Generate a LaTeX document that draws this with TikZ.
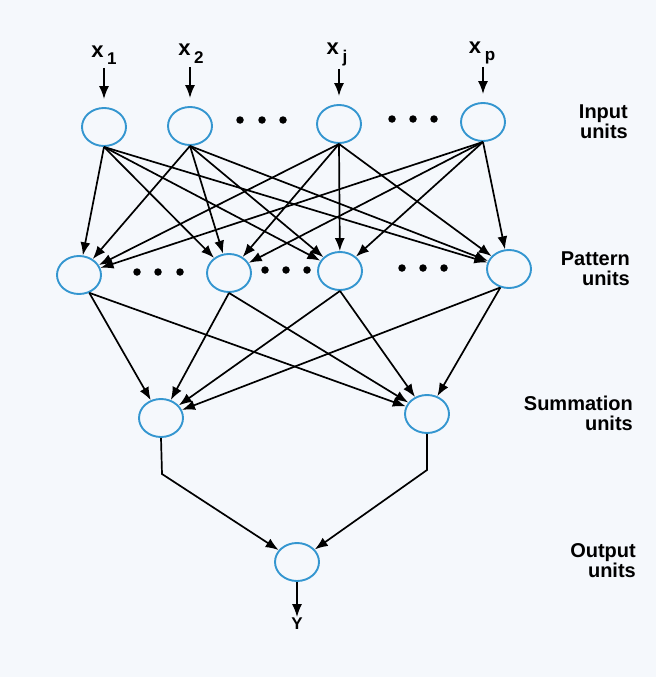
\documentclass[tikz,border=0pt]{standalone}
\usepackage{fontspec}
\setmainfont{Liberation Sans}
\usetikzlibrary{arrows.meta,shapes.geometric}
\definecolor{paper}{RGB}{245,248,252}
\definecolor{unitblue}{RGB}{52,150,208}
\begin{document}
\begin{tikzpicture}[x=1pt,y=-1pt,
  unit/.style={ellipse,draw=unitblue,line width=1.9pt,minimum width=44pt,minimum height=38pt,inner sep=0pt},
  arr/.style={line width=1.7pt,-{Latex[length=13pt,width=10pt]}},
  dotmark/.style={circle,fill=black,inner sep=0pt,minimum size=7.5pt},
  layerlab/.style={anchor=east,align=right,inner sep=0pt,font=\bfseries\fontsize{20}{20}\selectfont},
  inlab/.style={anchor=base,inner sep=0pt,font=\bfseries}
]
\fill[paper] (0,0) rectangle (656,677);
\useasboundingbox (0,0) rectangle (656,677);

% input units
\node[unit] (i1) at (104,127) {};
\node[unit] (i2) at (190,126) {};
\node[unit] (ij) at (339,124) {};
\node[unit] (ip) at (483,122) {};

% pattern units
\node[unit] (p1) at (79,275) {};
\node[unit] (p2) at (229,273) {};
\node[unit] (p3) at (340,271) {};
\node[unit] (p4) at (509,269) {};

% summation units
\node[unit] (s1) at (161,418) {};
\node[unit] (s2) at (427,414) {};

% output unit
\node[unit] (o) at (297,562) {};

% input labels
\newcommand{\inname}[2]{\fontsize{22}{22}\selectfont #1\,\raisebox{-8pt}{\fontsize{17}{17}\selectfont #2}}
\node[inlab] (l1) at (104,57) {\inname{x}{1}};
\node[inlab] (l2) at (191,56) {\inname{x}{2}};
\node[inlab] (lj) at (337,55) {\inname{x}{j}};
\node[inlab] (lp) at (482,53) {\inname{x}{p}};
\coordinate (a1) at (104,68);
\coordinate (a2) at (190,67);
\coordinate (aj) at (339,69);
\coordinate (ap) at (483,67);
\foreach \n in {1,2,j,p} \draw[arr,shorten >=8pt] (a\n) -- (i\n.north);

% dots between units
\foreach \x/\y in {240/120,262/120,283/120,392/119,413/119,434/119,
                   137/272,158/272,180/272,265/270,286/270,307/270,
                   402/268,423/268,444/268}
  \node[dotmark] at (\x,\y) {};

% input -> pattern
\foreach \s in {i1,i2,ij,ip}
  \foreach \t in {p1,p2,p3,p4}
    \draw[arr] (\s.south) -- (\t);

% pattern -> summation
\foreach \t in {s1,s2}{
  \draw[arr] (p1.-60) -- (\t);
  \draw[arr] (p2.south) -- (\t);
  \draw[arr] (p3.south) -- (\t);
  \draw[arr] (p4.-115) -- (\t);
}

% summation -> output
\coordinate (e1) at (162,474);
\coordinate (e2) at (427,470);
\draw[arr] (s1.south) -- (e1) -- (o);
\draw[arr] (s2.south) -- (e2) -- (o);

% output
\node[inner sep=0pt,anchor=base,font=\bfseries\fontsize{17}{17}\selectfont] (y) at (297,629) {Y};
\draw[arr] (o.south) -- (y.north);

% layer labels
\node[layerlab] (tin) at (628,122) {Input\\units};
\node[layerlab] (tpat) at (630,269) {Pattern\\units};
\node[layerlab] (tsum) at (633,413) {Summation\\units};
\node[layerlab] (tout) at (636,561) {Output\\units};
\end{tikzpicture}
\end{document}
